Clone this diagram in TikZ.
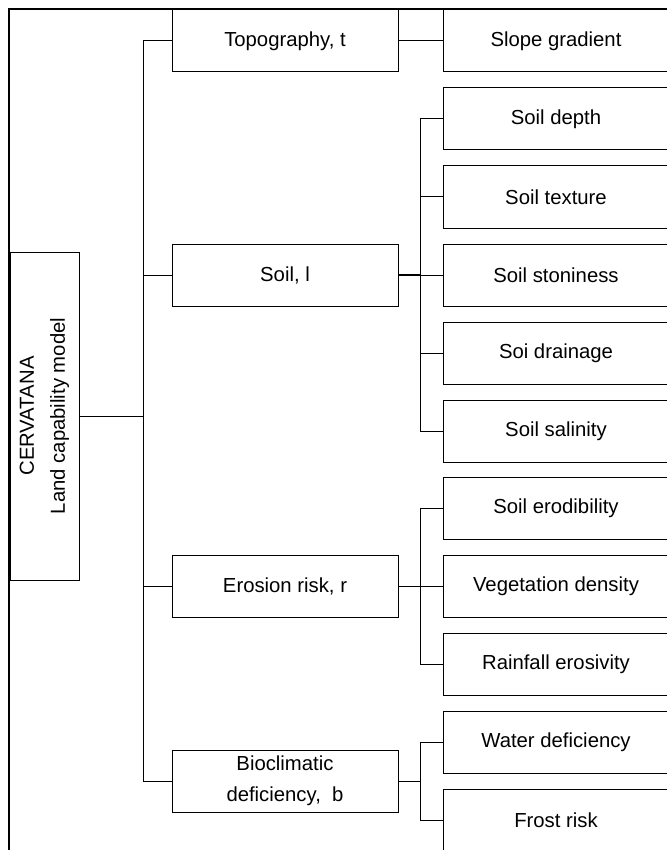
\documentclass[tikz,border=0pt]{standalone}
\usepackage{fontspec}
\setmainfont{Liberation Sans}

\begin{document}
\begin{tikzpicture}[x=0.5pt, y=-0.5pt,
    box/.style={draw, line width=0.5pt, minimum width=113pt, minimum height=31pt, inner sep=0pt, align=center, font=\fontsize{10.15}{15.5}\selectfont},
    link/.style={draw, line width=0.5pt}]
        \clip (0,0) rectangle (667,850);

        % frame
        \draw[line width=1.3pt] (9,850) -- (9,9) -- (667,9);

        \node[box, rotate=90, minimum width=164pt, minimum height=34.5pt] (cerv) at (44.5,416) {CERVATANA\\Land capability model};

        \node[box] (topo) at (285,41) {Topography, t};
        \node[box] (soil) at (285,275) {Soil, l};
        \node[box] (erosion) at (285,586) {Erosion risk, r};
        \node[box] (bioclim) at (285,781) {Bioclimatic\\deficiency,\ \ b};

        \node[box] (slope) at (556,41) {Slope gradient};
        \node[box] (depth) at (556,119) {Soil depth};
        \node[box] (texture) at (556,197) {Soil texture};
        \node[box] (stoniness) at (556,275) {Soil stoniness};
        \node[box] (drainage) at (556,353) {Soi drainage};
        \node[box] (salinity) at (556,431) {Soil salinity};
        \node[box] (erodibility) at (556,508) {Soil erodibility};
        \node[box] (vegetation) at (556,586) {Vegetation density};
        \node[box] (rainfall) at (556,664) {Rainfall erosivity};
        \node[box] (water) at (556,742) {Water deficiency};
        \node[box] (frost) at (556,820) {Frost risk};

        \coordinate (mainbus) at (143,416);
        \coordinate (soilbus) at (420,275);
        \coordinate (erosionbus) at (420,586);
        \coordinate (bioclimbus) at (420,781);

        \draw[link] (cerv) -- (mainbus);
        \foreach \n in {topo,soil,erosion,bioclim}
            \draw[link] (mainbus) |- (\n.west);

        \draw[link] (topo) -- (slope);

        \draw[link, line width=1pt] (soil) -- (soilbus);
        \foreach \n in {depth,texture,stoniness,drainage,salinity}
            \draw[link] (soilbus) |- (\n.west);

        \draw[link] (erosion) -- (erosionbus);
        \foreach \n in {erodibility,vegetation,rainfall}
            \draw[link] (erosionbus) |- (\n.west);

        \draw[link] (bioclim) -- (bioclimbus);
        \foreach \n in {water,frost}
            \draw[link] (bioclimbus) |- (\n.west);
    \end{tikzpicture}
\end{document}
